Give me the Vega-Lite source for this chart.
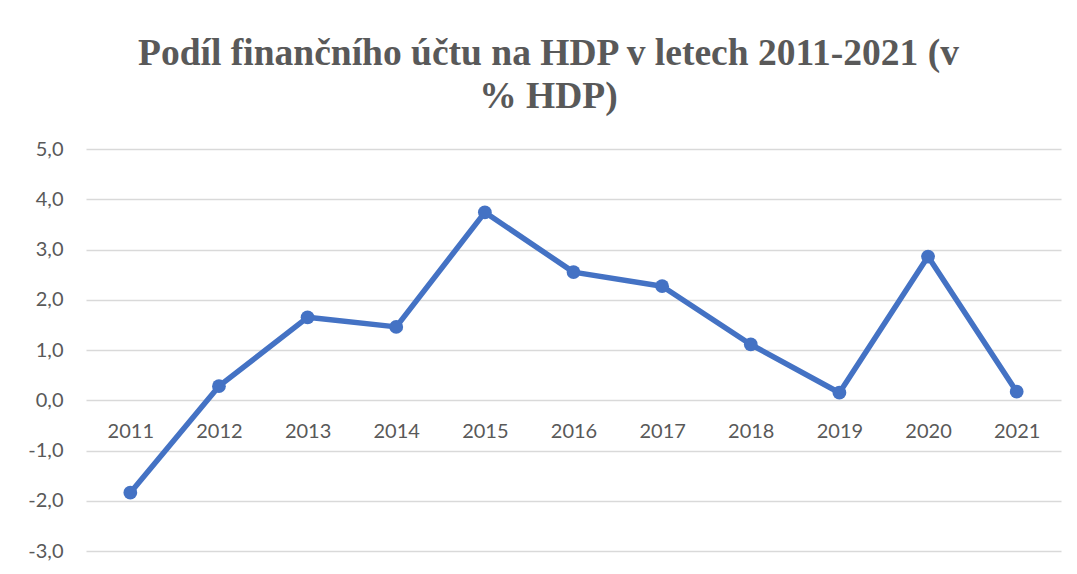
{
  "$schema": "https://vega.github.io/schema/vega-lite/v6.json",
  "autosize": {"type": "none"},
  "width": 975,
  "height": 402,
  "padding": {"left": 86, "top": 149, "right": 16, "bottom": 23},
  "background": "white",
  "title": {
    "text": ["Podíl finančního účtu na HDP v letech 2011-2021 (v", "% HDP)"],
    "font": "Liberation Serif",
    "fontSize": 37.5,
    "fontWeight": "bold",
    "color": "#595959",
    "lineHeight": 43,
    "anchor": "middle",
    "dx": -25,
    "offset": 24
  },
  "data": {
    "values": [
      {"rok": "2011", "hodnota": -1.84},
      {"rok": "2012", "hodnota": 0.28},
      {"rok": "2013", "hodnota": 1.65},
      {"rok": "2014", "hodnota": 1.46},
      {"rok": "2015", "hodnota": 3.74},
      {"rok": "2016", "hodnota": 2.55},
      {"rok": "2017", "hodnota": 2.27},
      {"rok": "2018", "hodnota": 1.11},
      {"rok": "2019", "hodnota": 0.15},
      {"rok": "2020", "hodnota": 2.86},
      {"rok": "2021", "hodnota": 0.17}
    ]
  },
  "encoding": {
    "x": {
      "field": "rok",
      "type": "ordinal",
      "scale": {"type": "point", "padding": 0.5},
      "axis": {
        "title": null,
        "orient": "bottom",
        "offset": -151,
        "domain": false,
        "ticks": false,
        "tickSize": 0,
        "labelAngle": 0,
        "labelPadding": 21,
        "labelFont": "Lato",
        "labelFontSize": 20,
        "labelColor": "#595959",
        "grid": false
      }
    },
    "y": {
      "field": "hodnota",
      "type": "quantitative",
      "scale": {"domain": [-3, 5], "nice": false, "zero": false},
      "axis": {
        "title": null,
        "values": [-3, -2, -1, 0, 1, 2, 3, 4, 5],
        "labelExpr": "replace(replace(format(datum.value, '.1f'), '.', ','), '\u2212', '-')",
        "domain": false,
        "ticks": false,
        "tickSize": 0,
        "labelPadding": 23,
        "labelFont": "Lato",
        "labelFontSize": 20,
        "labelColor": "#595959",
        "grid": true,
        "gridColor": "#D9D9D9",
        "gridWidth": 1.3
      }
    }
  },
  "layer": [
    {
      "mark": {"type": "line", "color": "#4472C4", "strokeWidth": 5.5, "strokeCap": "round", "strokeJoin": "round"}
    },
    {
      "mark": {"type": "point", "filled": true, "color": "#4472C4", "opacity": 1, "size": 190}
    }
  ],
  "config": {
    "view": {"stroke": null}
  }
}
